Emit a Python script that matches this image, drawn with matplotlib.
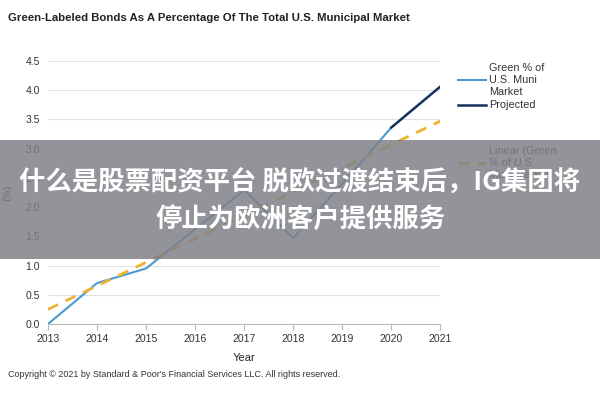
import matplotlib
matplotlib.use('Agg')
import matplotlib.pyplot as plt
from matplotlib.patches import Rectangle

# chart values
years = [2013, 2014, 2015, 2016, 2017, 2018, 2019, 2020]
green_pct = [0.0, 0.70, 0.95, 1.62, 2.29, 1.47, 2.40, 3.36]
proj_years = [2020, 2021]
proj_pct = [3.36, 4.06]
trend_years = [2013, 2021]
trend_pct = [0.25, 3.47]
xticks = list(range(2013, 2022))
yticks = [0.0, 0.5, 1.0, 1.5, 2.0, 2.5, 3.0, 3.5, 4.0, 4.5]

plt.rcParams['font.family'] = ['Liberation Sans', 'DejaVu Sans']

fig = plt.figure(figsize=(6, 4), dpi=100)
ax = fig.add_axes([0.08, 0.19, 0.654, 0.658])

l1, = ax.plot(years, green_pct, color='#4a9ad0', lw=1.5, label='Green % of\nU.S. Muni\nMarket')
l2, = ax.plot(proj_years, proj_pct, color='#13315c', lw=1.8, label='Projected')
l3, = ax.plot(trend_years, trend_pct, color='#f0b232', lw=2.0, ls=(0, (4, 3)),
              label='Linear (Green\n% of U.S.\nMuni Market)')

ax.set_xlim(2013, 2021)
ax.set_ylim(0, 4.5)
ax.set_xticks(xticks)
ax.set_yticks(yticks)
ax.set_yticklabels(['%.1f' % v for v in yticks])
ax.tick_params(axis='y', length=0, labelsize=7.5, colors='#333333', pad=6)
ax.tick_params(axis='x', length=4, direction='out', color='#bbbbbb', labelsize=7.5,
               colors='#333333', pad=3)
ax.grid(axis='y', color='#e2e2e2', lw=0.8)
ax.set_axisbelow(True)
for s in ['top', 'right', 'left']:
    ax.spines[s].set_visible(False)
ax.spines['bottom'].set_color('#bbbbbb')
ax.set_xlabel('Year', fontsize=8, color='#222222', labelpad=7)
ax.set_ylabel('(%)', fontsize=7.5, color='#222222', labelpad=9)

leg_kw = dict(frameon=False, fontsize=7.8, handlelength=2.6, handletextpad=0.3,
              labelspacing=0.35, borderpad=0, borderaxespad=0)
leg1 = ax.legend(handles=[l1, l2], loc='upper left', bbox_to_anchor=(1.045, 0.99), **leg_kw)
ax.add_artist(leg1)
leg2 = ax.legend(handles=[l3], loc='upper left', bbox_to_anchor=(1.045, 0.675), **leg_kw)
for lg in (leg1, leg2):
    for t in lg.get_texts():
        t.set_color('#333333')

fig.text(0.013, 0.948, 'Green-Labeled Bonds As A Percentage Of The Total U.S. Municipal Market',
         fontsize=8.2, fontweight='bold', color='#222222')
fig.text(0.013, 0.057, "Copyright \u00a9 2021 by Standard & Poor's Financial Services LLC. All rights reserved.",
         fontsize=6.5, color='#333333')

# grey banner with headline overlay
fig.patches.append(Rectangle((0, 1 - 259 / 400), 1, 119 / 400, transform=fig.transFigure,
                             facecolor='#7f8087', alpha=0.84, zorder=10))
cjk = ['Noto Sans CJK SC', 'DejaVu Sans']
fig.text(0.5, 1 - 183 / 400, '什么是股票配资平台 脱欧过渡结束后，IG集团将',
         ha='center', va='center', fontsize=19, fontweight='bold', color='white',
         family=cjk, zorder=11)
fig.text(0.5, 1 - 219 / 400, '停止为欧洲客户提供服务',
         ha='center', va='center', fontsize=19, fontweight='bold', color='white',
         family=cjk, zorder=11)

fig.savefig('out.png', dpi=100)
